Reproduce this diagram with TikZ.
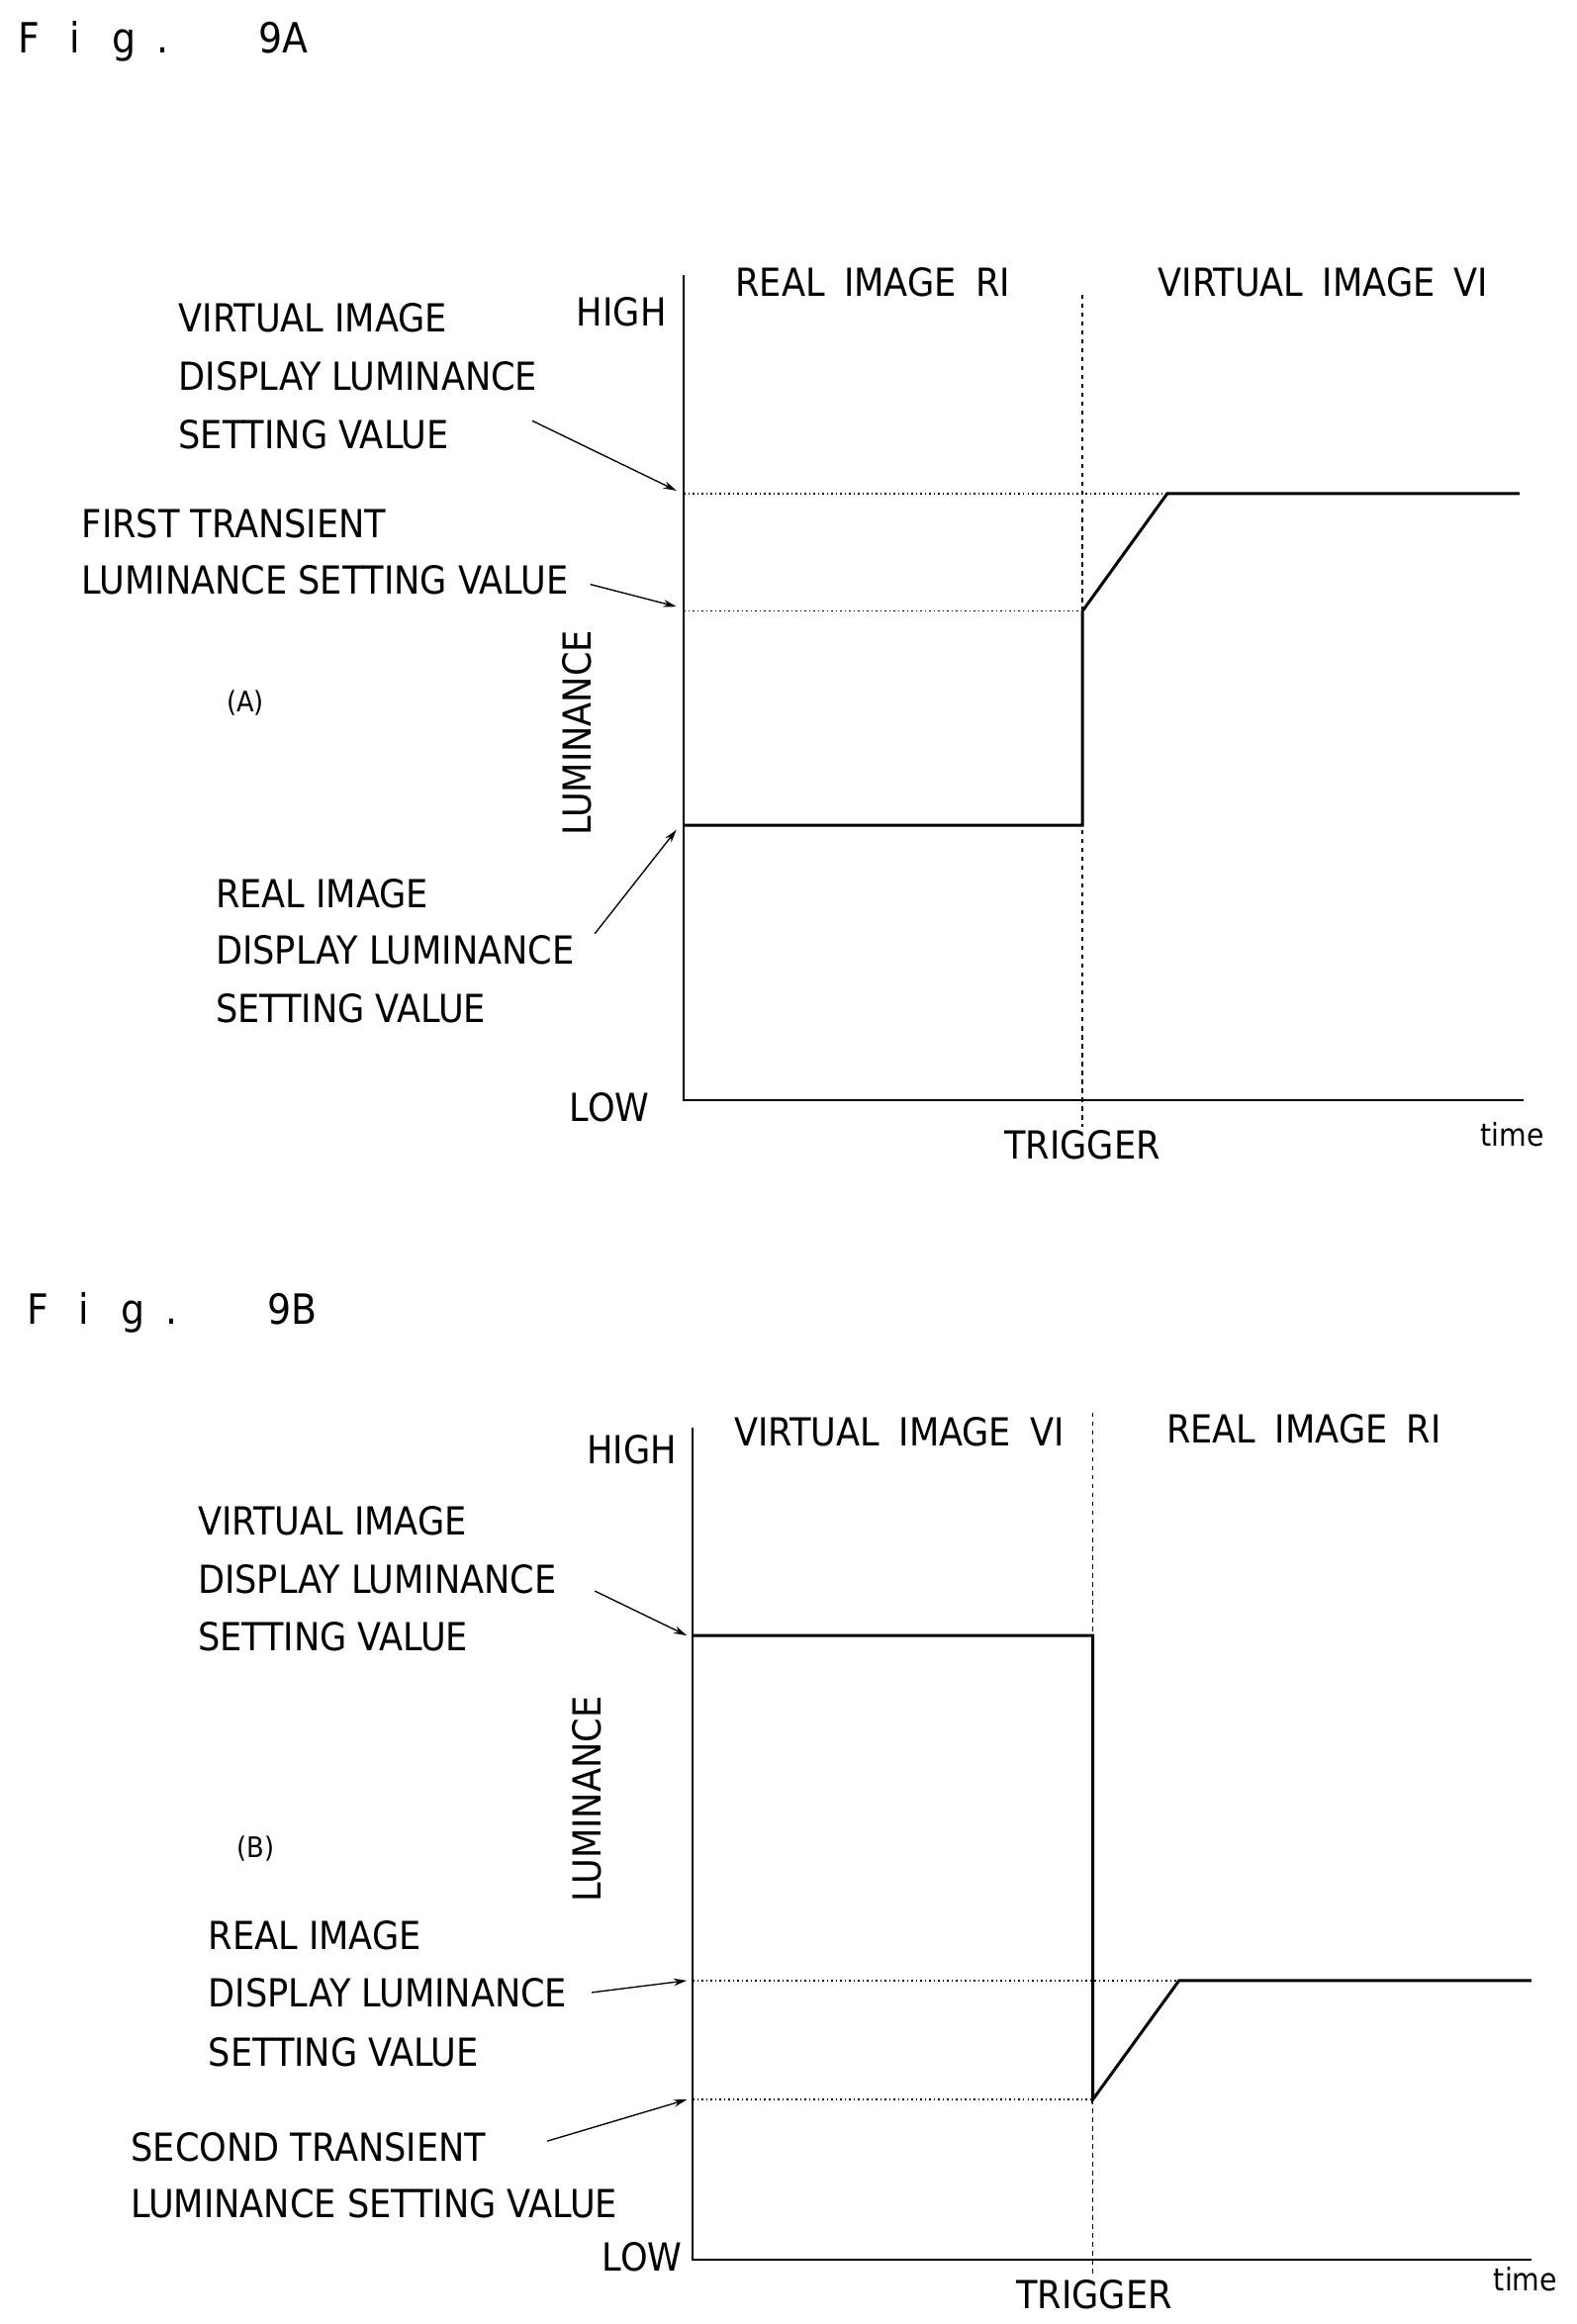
\documentclass[tikz,border=0pt]{standalone}
\usepackage{fontspec}
\setmainfont{DejaVu Sans Condensed}
\usetikzlibrary{arrows.meta}
\begin{document}
\begin{tikzpicture}[x=1pt,y=-1pt,
  lbl/.style={anchor=west,inner sep=0pt,font=\fontsize{26}{30}\selectfont},
  ctr/.style={inner sep=0pt,font=\fontsize{26}{30}\selectfont},
  ttl/.style={anchor=west,inner sep=0pt,font=\fontsize{28}{32}\selectfont},
  axis/.style={line width=1.3pt},
  curve/.style={line width=2pt},
  dot/.style={dotted,line width=1pt},
  dsh/.style={dashed,line width=1pt},
  arr/.style={-{Stealth[length=9pt,width=5pt]},line width=0.9pt}]
\useasboundingbox[fill=white] (0,0) rectangle (1060,1563);
% ---------- Fig 9A
\node[ttl] (t1) at (12,28) {F\hspace{20pt}i\hspace{22pt}g\hspace{14pt}.\hspace{60pt}9A};
\coordinate (a0) at (460,740);
\coordinate (atop) at (460,185);
\coordinate (aend) at (1025,740);
\draw[axis] (atop) -- (a0) -- (aend);
\coordinate (dt1) at (728,198); \coordinate (db1) at (728,758);
\draw[dsh] (dt1) -- (db1);
\coordinate (ah) at (460,332); \coordinate (ah2) at (785,332);
\coordinate (af) at (460,411); \coordinate (af2) at (728,411);
\coordinate (ar) at (460,555); \coordinate (ar2) at (728,555);
\coordinate (aE) at (1022,332);
\draw[dot] (ah) -- (ah2);
\draw[dot] (af) -- (af2);
\draw[curve] (ar) -- (ar2) -- (af2) -- (ah2) -- (aE);
\node[ctr] (ahigh) at (418,210) {HIGH};
\node[ctr] (alow) at (410,745) {LOW};
\node[ctr] (ari) at (587,190) {REAL\enspace IMAGE\enspace RI};
\node[ctr] (avi) at (890,190) {VIRTUAL\enspace IMAGE\enspace VI};
\node[ctr,rotate=90] (alum) at (388,493) {LUMINANCE};
\node[ctr,font=\fontsize{19}{22}\selectfont] (aA) at (165,473) {(A)};
\node[ctr] (atrig) at (728,770) {TRIGGER};
\node[ctr,font=\fontsize{21}{24}\selectfont] (atime) at (1017,763) {time};
\node[lbl] (l1) at (120,214) {VIRTUAL IMAGE};
\node[lbl] (l2) at (120,253) {DISPLAY LUMINANCE};
\node[lbl] (l3) at (120,292) {SETTING VALUE};
\node[lbl] (l4) at (55,352) {FIRST TRANSIENT};
\node[lbl] (l5) at (55,390) {LUMINANCE SETTING VALUE};
\node[lbl] (l6) at (145,601) {REAL IMAGE};
\node[lbl] (l7) at (145,639) {DISPLAY LUMINANCE};
\node[lbl] (l8) at (145,678) {SETTING VALUE};
\coordinate (s1) at (358,283); \coordinate (e1) at (455,330);
\coordinate (s2) at (397,393); \coordinate (e2) at (455,408);
\coordinate (s3) at (400,628); \coordinate (e3) at (455,558);
\draw[arr] (s1) -- (e1);
\draw[arr] (s2) -- (e2);
\draw[arr] (s3) -- (e3);
% ---------- Fig 9B
\node[ttl] (t2) at (18,883) {F\hspace{20pt}i\hspace{22pt}g\hspace{14pt}.\hspace{60pt}9B};
\coordinate (b0) at (466,1520);
\coordinate (btop) at (466,960);
\coordinate (bend) at (1030,1520);
\draw[axis] (btop) -- (b0) -- (bend);
\coordinate (dt2) at (735,950); \coordinate (db2) at (735,1530);
\draw[dsh] (dt2) -- (db2);
\coordinate (bv) at (466,1100); \coordinate (bv2) at (735,1100);
\coordinate (bs) at (466,1412); \coordinate (bs2) at (735,1412);
\coordinate (br) at (466,1332); \coordinate (br2) at (793,1332);
\coordinate (bE) at (1030,1332);
\draw[dot] (br) -- (br2);
\draw[dot] (bs) -- (bs2);
\draw[curve] (bv) -- (bv2) -- (bs2) -- (br2) -- (bE);
\node[ctr] (bhigh) at (425,975) {HIGH};
\node[ctr] (blow) at (432,1518) {LOW};
\node[ctr] (bvi) at (605,963) {VIRTUAL\enspace IMAGE\enspace VI};
\node[ctr] (bri) at (877,961) {REAL\enspace IMAGE\enspace RI};
\node[ctr,rotate=90] (blum) at (395,1210) {LUMINANCE};
\node[ctr,font=\fontsize{19}{22}\selectfont] (bB) at (172,1243) {(B)};
\node[ctr] (btrig) at (736,1543) {TRIGGER};
\node[ctr,font=\fontsize{21}{24}\selectfont] (btime) at (1026,1533) {time};
\node[lbl] (m1) at (133,1023) {VIRTUAL IMAGE};
\node[lbl] (m2) at (133,1062) {DISPLAY LUMINANCE};
\node[lbl] (m3) at (133,1101) {SETTING VALUE};
\node[lbl] (m4) at (140,1302) {REAL IMAGE};
\node[lbl] (m5) at (140,1340) {DISPLAY LUMINANCE};
\node[lbl] (m6) at (140,1380) {SETTING VALUE};
\node[lbl] (m7) at (88,1444) {SECOND TRANSIENT};
\node[lbl] (m8) at (88,1482) {LUMINANCE SETTING VALUE};
\coordinate (u1) at (400,1070); \coordinate (v1) at (462,1100);
\coordinate (u2) at (398,1340); \coordinate (v2) at (462,1332);
\coordinate (u3) at (368,1440); \coordinate (v3) at (462,1412);
\draw[arr] (u1) -- (v1);
\draw[arr] (u2) -- (v2);
\draw[arr] (u3) -- (v3);
\end{tikzpicture}
\end{document}
